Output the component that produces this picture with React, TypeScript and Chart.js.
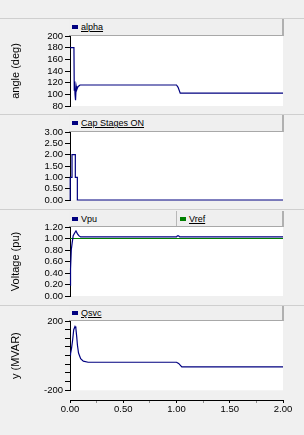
import React, { useEffect, useRef } from 'react';
import { Chart, registerables } from 'chart.js';

Chart.register(...registerables);

// ---------- data ----------
const alphaTime = [0, 0.037, 0.04, 0.043, 0.047, 0.052, 0.058, 0.064, 0.072, 0.08, 0.094, 1.0, 1.015, 1.035, 2.0];
const alphaDeg = [180, 180, 107, 122, 100, 90, 114, 108, 112, 114, 116, 116, 112, 102, 102];

const capTime = [0, 0.002, 0.002, 0.019, 0.019, 0.05, 0.05, 0.069, 0.069, 2.0];
const capStages = [0, 0, 1, 1, 2, 2, 1, 1, 0, 0];

const vpuTime = [0, 0.005, 0.012, 0.02, 0.03, 0.045, 0.056, 0.07, 0.085, 0.1, 1.0, 1.008, 1.02, 1.03, 2.0];
const vpuValues = [0.19, 0.47, 0.8, 0.92, 1.05, 1.1, 1.13, 1.08, 1.045, 1.027, 1.027, 1.045, 1.045, 1.027, 1.027];

const vrefTime = [0, 2.0];
const vrefValues = [1.0, 1.0];

const qsvcTime = [0, 0.005, 0.015, 0.025, 0.035, 0.047, 0.055, 0.063, 0.07, 0.08, 0.1, 0.125, 0.17, 1.0, 1.02, 1.05, 2.0];
const qsvcValues = [5, 10, 45, 92, 150, 168, 158, 110, 60, 15, -18, -32, -38, -38, -45, -65, -65];

const xMajorTicks = [0, 0.5, 1.0, 1.5, 2.0];
const qsvcLabeledTicks = [-200, 200];

// ---------- styling ----------
const NAVY = '#000080';
const GREEN = '#008000';
const FONT = 'Arial, "Liberation Sans", sans-serif';
const tickFont = { family: FONT, size: 9.5 };
const titleFont = { family: FONT, size: 11 };

const toPoints = (t: number[], v: number[]) => t.map((x, i) => ({ x, y: v[i] }));

const plotBackground = {
  id: 'plotBackground',
  beforeDraw(chart: any) {
    const { ctx, chartArea: a } = chart;
    ctx.save();
    ctx.fillStyle = '#ffffff';
    ctx.fillRect(a.left, a.top, a.right - a.left, a.bottom - a.top);
    ctx.restore();
  },
};

interface YSpec {
  min: number;
  max: number;
  step: number;
  fmt: (v: number) => string;
  title?: string;
}

function panelConfig(datasets: any[], y: YSpec, padTop: number, padBottom: number): any {
  return {
    type: 'line',
    data: { datasets: datasets.map((d) => ({ clip: 2, ...d })) },
    options: {
      animation: false,
      responsive: false,
      devicePixelRatio: 1,
      layout: { padding: { left: 0, right: 21, top: padTop, bottom: padBottom } },
      plugins: { legend: { display: false }, tooltip: { enabled: false } },
      elements: { point: { radius: 0 }, line: { tension: 0, borderWidth: 1.2 } },
      scales: {
        x: { type: 'linear', min: 0, max: 2, display: false },
        y: {
          type: 'linear',
          min: y.min,
          max: y.max,
          afterFit: (s: any) => {
            s.width = 70;
          },
          ticks: {
            stepSize: y.step,
            autoSkip: false,
            color: '#000',
            font: tickFont,
            padding: 2,
            callback: (v: any) => y.fmt(Number(v)),
          },
          grid: { drawOnChartArea: false, drawTicks: true, tickLength: 5, tickColor: '#000', color: '#000' },
          border: { display: true, color: '#000', width: 1 },
          title: {
            display: !!y.title,
            text: y.title || '',
            color: '#000',
            font: titleFont,
            padding: { top: 9, bottom: 0 },
          },
        },
      },
    },
    plugins: [plotBackground],
  };
}

function axisConfig(axisHeight: number): any {
  return {
    type: 'line',
    data: { datasets: [] },
    options: {
      animation: false,
      responsive: false,
      devicePixelRatio: 1,
      layout: { padding: { left: 70, right: 21, top: 0, bottom: 0 } },
      plugins: { legend: { display: false }, tooltip: { enabled: false } },
      scales: {
        x: {
          type: 'linear',
          position: 'bottom',
          min: 0,
          max: 2,
          afterFit: (s: any) => {
            s.height = axisHeight;
          },
          ticks: {
            stepSize: 0.25,
            autoSkip: false,
            maxRotation: 0,
            color: '#000',
            font: tickFont,
            padding: 1,
            callback: (v: any) => {
              const n = Number(v);
              return xMajorTicks.some((m) => Math.abs(m - n) < 1e-6) ? n.toFixed(2) : '';
            },
          },
          grid: {
            drawOnChartArea: false,
            drawTicks: true,
            tickLength: 3,
            tickColor: (ctx: any) => {
              const n = ctx.tick ? ctx.tick.value : 0;
              return xMajorTicks.some((m) => Math.abs(m - n) < 1e-6) ? '#000' : '#909090';
            },
          },
          border: { display: true, color: '#000', width: 1 },
        },
        y: { display: false, min: 0, max: 1 },
      },
    },
  };
}

function ChartCanvas({ top, height, build }: { top: number; height: number; build: () => any }) {
  const ref = useRef<HTMLCanvasElement>(null);
  useEffect(() => {
    const chart = new Chart(ref.current as HTMLCanvasElement, build());
    return () => chart.destroy();
  }, []);
  return (
    <canvas
      ref={ref}
      width={304}
      height={height}
      style={{ position: 'absolute', left: 0, top, width: 304, height }}
    />
  );
}

function LegendItem({ color, label, underline }: { color: string; label: string; underline: boolean }) {
  return (
    <div style={{ display: 'flex', alignItems: 'center', paddingLeft: 3, height: '100%' }}>
      <div style={{ width: 6, height: 4, background: color, marginRight: 3 }} />
      <span
        style={{
          fontFamily: FONT,
          fontSize: 9,
          color: '#000',
          textDecoration: underline ? 'underline' : 'none',
          lineHeight: '10px',
        }}
      >
        {label}
      </span>
    </div>
  );
}

function Header({ top, height, items }: { top: number; height: number; items: { color: string; label: string; underline: boolean; width?: number }[] }) {
  return (
    <div
      style={{
        position: 'absolute',
        left: 69,
        top,
        width: 215,
        height,
        boxSizing: 'border-box',
        background: '#efefef',
        borderBottom: '1px solid #a8a8a8',
        borderRight: '2px solid #b0b0b0',
        display: 'flex',
      }}
    >
      {items.map((it, i) => (
        <div
          key={i}
          style={{
            width: it.width,
            flex: it.width ? 'none' : 1,
            height: '100%',
            boxSizing: 'border-box',
            borderRight: i < items.length - 1 ? '1px solid #b8b8b8' : 'none',
          }}
        >
          <LegendItem color={it.color} label={it.label} underline={it.underline} />
        </div>
      ))}
    </div>
  );
}

const separators = [18, 114, 209, 305];

export default function App() {
  useEffect(() => {
    document.body.style.margin = '0';
  }, []);

  const fmt2 = (v: number) => v.toFixed(2);
  const fmt0 = (v: number) => String(Math.round(v));

  return (
    <div style={{ position: 'absolute', left: 0, top: 0, width: 304, height: 435, background: '#f0f0f0', overflow: 'hidden' }}>
      <ChartCanvas
        top={19}
        height={95}
        build={() =>
          panelConfig(
            [{ label: 'alpha', data: toPoints(alphaTime, alphaDeg), borderColor: NAVY, backgroundColor: NAVY }],
            { min: 80, max: 200, step: 20, fmt: fmt0, title: 'angle (deg)' },
            17,
            8
          )
        }
      />
      <ChartCanvas
        top={115}
        height={94}
        build={() =>
          panelConfig(
            [{ label: 'Cap Stages ON', data: toPoints(capTime, capStages), borderColor: NAVY, backgroundColor: NAVY }],
            { min: 0, max: 3, step: 0.5, fmt: fmt2 },
            17,
            9
          )
        }
      />
      <ChartCanvas
        top={210}
        height={95}
        build={() =>
          panelConfig(
            [
              { label: 'Vpu', data: toPoints(vpuTime, vpuValues), borderColor: NAVY, backgroundColor: NAVY },
              { label: 'Vref', data: toPoints(vrefTime, vrefValues), borderColor: GREEN, backgroundColor: GREEN },
            ],
            { min: 0, max: 1.2, step: 0.2, fmt: fmt2, title: 'Voltage (pu)' },
            17,
            9
          )
        }
      />
      <ChartCanvas
        top={306}
        height={92}
        build={() =>
          panelConfig(
            [{ label: 'Qsvc', data: toPoints(qsvcTime, qsvcValues), borderColor: NAVY, backgroundColor: NAVY }],
            {
              min: -200,
              max: 200,
              step: 50,
              fmt: (v: number) => (qsvcLabeledTicks.includes(Math.round(v)) ? String(Math.round(v)) : ''),
              title: 'y (MVAR)',
            },
            15,
            7
          )
        }
      />
      <ChartCanvas top={380} height={55} build={() => axisConfig(35)} />

      {separators.map((y) => (
        <div key={y} style={{ position: 'absolute', left: 0, top: y, width: 304, height: 1, background: '#cfcfcf' }} />
      ))}

      <Header top={19} height={17} items={[{ color: NAVY, label: 'alpha', underline: true }]} />
      <Header top={115} height={17} items={[{ color: NAVY, label: 'Cap Stages ON', underline: true }]} />
      <Header
        top={211}
        height={16}
        items={[
          { color: NAVY, label: 'Vpu', underline: false, width: 108 },
          { color: GREEN, label: 'Vref', underline: true },
        ]}
      />
      <Header top={306} height={15} items={[{ color: NAVY, label: 'Qsvc', underline: true }]} />
    </div>
  );
}
